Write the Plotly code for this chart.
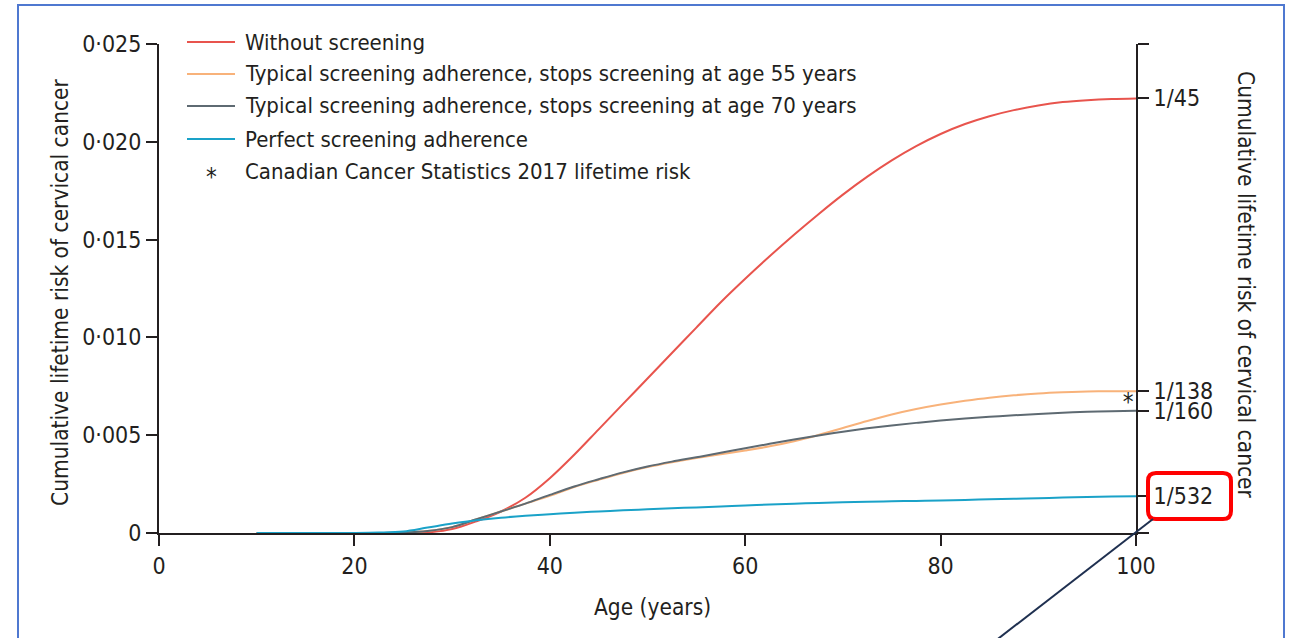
import plotly.graph_objects as go

# Age grid (years) shared by all modelled curves
age = [10, 15, 20, 22.5, 25, 27.5, 30, 32.5, 35, 37.5, 40, 42.5, 45, 47.5, 50,
       52.5, 55, 57.5, 60, 62.5, 65, 67.5, 70, 72.5, 75, 77.5, 80, 82.5, 85,
       87.5, 90, 92.5, 95, 97.5, 100]

# Cumulative lifetime risk of cervical cancer
risk_no_screening = [0, 0, 0, 0, 0, 0.00003, 0.0002, 0.0006, 0.0011, 0.0018,
                     0.0028, 0.0040, 0.0053, 0.0066, 0.0079, 0.0092, 0.0105,
                     0.0118, 0.0130, 0.01415, 0.01525, 0.0163, 0.0173, 0.01822,
                     0.01905, 0.01978, 0.0204, 0.02091, 0.02131, 0.02162,
                     0.02186, 0.02203, 0.02213, 0.02219, 0.02222]
risk_stop55 = [0, 0, 0, 0, 0.00002, 0.0001, 0.0003, 0.0007, 0.0011, 0.0015,
               0.0019, 0.00235, 0.00272, 0.00307, 0.00337, 0.00362, 0.00384,
               0.00403, 0.00422, 0.00443, 0.00469, 0.00501, 0.00537, 0.00573,
               0.00606, 0.00634, 0.00657, 0.00676, 0.00692, 0.00704, 0.00713,
               0.00719, 0.00723, 0.00725, 0.00725]
risk_stop70 = [0, 0, 0, 0, 0.00002, 0.0001, 0.0003, 0.0007, 0.0011, 0.0015,
               0.00195, 0.00238, 0.00275, 0.0031, 0.0034, 0.00365, 0.00387,
               0.0041, 0.00433, 0.00456, 0.00478, 0.00499, 0.00518, 0.00535,
               0.0055, 0.00563, 0.00575, 0.00585, 0.00594, 0.00602, 0.00609,
               0.00615, 0.0062, 0.00623, 0.00625]
risk_perfect = [0, 0, 0, 0.00002, 0.00008, 0.00028, 0.00048, 0.00065, 0.00078,
                0.00088, 0.00096, 0.00104, 0.0011, 0.00116, 0.00121, 0.00126,
                0.00131, 0.00136, 0.00141, 0.00146, 0.0015, 0.00154, 0.00157,
                0.0016, 0.00162, 0.00164, 0.00166, 0.00169, 0.00172, 0.00175,
                0.00178, 0.00181, 0.00184, 0.00186, 0.00188]

# Canadian Cancer Statistics 2017 lifetime risk (1 in 152)
ccs_age = [99.2]
ccs_risk = [1 / 152]

series_names = ["Without screening",
                "Typical screening adherence, stops screening at age 55 years",
                "Typical screening adherence, stops screening at age 70 years",
                "Perfect screening adherence"]
series_colors = ["#E8544D", "#F8B27A", "#5E6A72", "#1AA2C8"]
series_values = [risk_no_screening, risk_stop55, risk_stop70, risk_perfect]
ccs_label = "Canadian Cancer Statistics 2017 lifetime risk"

left_tickvals = [0, 0.005, 0.010, 0.015, 0.020, 0.025]
left_ticktext = ["0", "0·005", "0·010", "0·015", "0·020", "0·025"]
right_tickvals = [0, 1 / 532, 1 / 160, 1 / 138, 1 / 45, 0.025]
right_ticktext = ["", "1/532", "1/160", "1/138", "1/45", ""]
x_tickvals = [0, 20, 40, 60, 80, 100]

INK = "#231F20"
FONT = "DejaVu Sans Condensed, Liberation Sans Narrow, Arial Narrow, sans-serif"

W, H = 1296, 638
L, R, T, B = 159, 1136, 44, 533


def px(x):
    return (x - L) / (R - L)


def py(y):
    return (B - y) / (B - T)


fig = go.Figure()
for name, color, vals in zip(series_names, series_colors, series_values):
    fig.add_trace(go.Scatter(x=age, y=vals, mode="lines", name=name,
                             line=dict(color=color, width=2, shape="spline"),
                             showlegend=False, cliponaxis=False))
fig.add_trace(go.Scatter(x=ccs_age, y=ccs_risk, mode="text", text=["*"],
                         textposition="middle center",
                         textfont=dict(size=24, color=INK, family=FONT),
                         showlegend=False, cliponaxis=False))
# invisible trace binding the right-hand axis
fig.add_trace(go.Scatter(x=[0], y=[0], yaxis="y2", mode="markers",
                         marker=dict(opacity=0), showlegend=False,
                         hoverinfo="skip"))

axis_common = dict(showgrid=False, zeroline=False, showline=True,
                   linecolor=INK, linewidth=2, ticks="outside", ticklen=11,
                   tickwidth=2, tickcolor=INK,
                   tickfont=dict(family=FONT, size=23, color=INK))

fig.update_layout(
    width=W, height=H, autosize=False,
    margin=dict(l=L, r=W - R, t=T, b=H - B, pad=0),
    paper_bgcolor="white", plot_bgcolor="white",
    xaxis=dict(range=[0, 100], tickvals=x_tickvals, **axis_common),
    yaxis=dict(range=[0, 0.025], tickvals=left_tickvals,
               ticktext=left_ticktext, **axis_common),
    yaxis2=dict(range=[0, 0.025], overlaying="y", side="right",
                tickvals=right_tickvals, ticktext=right_ticktext,
                **axis_common),
)

shapes = []
annotations = []

# legend
legend_y = [42, 74, 106, 139, 171]
for yy, color, name in zip(legend_y, series_colors, series_names):
    shapes.append(dict(type="line", xref="paper", yref="paper",
                       x0=px(187), x1=px(235), y0=py(yy), y1=py(yy),
                       line=dict(color=color, width=2)))
    annotations.append(dict(xref="paper", yref="paper", x=px(243), y=py(yy),
                            xanchor="left", yanchor="middle", showarrow=False,
                            text=name, font=dict(family=FONT, size=22, color=INK)))
annotations.append(dict(xref="paper", yref="paper", x=px(211), y=py(legend_y[4] + 6),
                        xanchor="center", yanchor="middle", showarrow=False,
                        text="*", font=dict(family=FONT, size=24, color=INK)))
annotations.append(dict(xref="paper", yref="paper", x=px(243), y=py(legend_y[4]),
                        xanchor="left", yanchor="middle", showarrow=False,
                        text=ccs_label, font=dict(family=FONT, size=22, color=INK)))

# axis titles
annotations.append(dict(xref="paper", yref="paper", x=px(652), y=py(607),
                        xanchor="center", yanchor="middle", showarrow=False,
                        text="Age (years)", font=dict(family=FONT, size=22.5, color=INK)))
annotations.append(dict(xref="paper", yref="paper", x=px(60), y=py(292),
                        xanchor="center", yanchor="middle", showarrow=False,
                        textangle=-90,
                        text="Cumulative lifetime risk of cervical cancer",
                        font=dict(family=FONT, size=22.5, color=INK)))
annotations.append(dict(xref="paper", yref="paper", x=px(1246), y=py(285),
                        xanchor="center", yanchor="middle", showarrow=False,
                        textangle=90,
                        text="Cumulative lifetime risk of cervical cancer",
                        font=dict(family=FONT, size=22.5, color=INK)))

# outer frame
shapes.append(dict(type="rect", xref="paper", yref="paper",
                   x0=px(18), x1=px(1284), y0=py(5), y1=py(700),
                   line=dict(color="#4F78D0", width=2)))

# highlight box round the 1/532 label, with a pointer line
bx0, bx1, by0, by1, rr = 1148, 1231, 473, 519, 8
path = (f"M {px(bx0 + rr)},{py(by0)} L {px(bx1 - rr)},{py(by0)} "
        f"Q {px(bx1)},{py(by0)} {px(bx1)},{py(by0 + rr)} "
        f"L {px(bx1)},{py(by1 - rr)} "
        f"Q {px(bx1)},{py(by1)} {px(bx1 - rr)},{py(by1)} "
        f"L {px(bx0 + rr)},{py(by1)} "
        f"Q {px(bx0)},{py(by1)} {px(bx0)},{py(by1 - rr)} "
        f"L {px(bx0)},{py(by0 + rr)} "
        f"Q {px(bx0)},{py(by0)} {px(bx0 + rr)},{py(by0)} Z")
shapes.append(dict(type="path", xref="paper", yref="paper", path=path,
                   line=dict(color="#FF0000", width=4)))
shapes.append(dict(type="line", xref="paper", yref="paper",
                   x0=px(1153), y0=py(519), x1=px(990), y1=py(645),
                   line=dict(color="#1F3050", width=2)))

fig.update_layout(shapes=shapes, annotations=annotations)

fig.write_html("out.html")
